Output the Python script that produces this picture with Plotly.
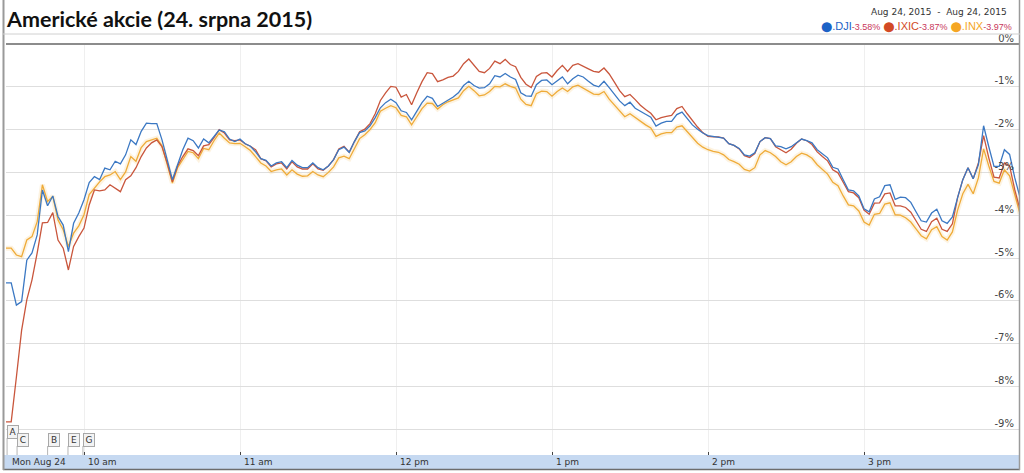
import plotly.graph_objects as go
import pandas as pd

# ---------------- data (percent change vs. previous close, 2-minute bars) ----------------
dji = [-5.58, -5.58, -6.10, -6.02, -5.05, -4.88, -4.46, -3.41, -3.78, -3.55,
       -4.03, -4.23, -4.85, -4.19, -3.95, -3.64, -3.24, -3.10, -3.17, -2.90,
       -2.94, -2.74, -2.80, -2.59, -2.24, -2.35, -2.04, -1.85, -1.86, -1.86,
       -2.24, -2.70, -3.17, -2.82, -2.47, -2.20, -2.26, -2.43, -2.22, -2.31,
       -2.17, -2.01, -2.05, -2.22, -2.28, -2.22, -2.33, -2.39, -2.52, -2.68,
       -2.72, -2.85, -2.78, -2.75, -2.89, -2.72, -2.83, -2.89, -2.89, -2.78,
       -2.89, -2.94, -2.85, -2.70, -2.47, -2.41, -2.53, -2.28, -2.07, -2.03,
       -1.91, -1.72, -1.49, -1.37, -1.29, -1.37, -1.56, -1.60, -1.77, -1.58,
       -1.37, -1.22, -1.27, -1.46, -1.39, -1.30, -1.24, -1.14, -0.97, -0.87,
       -0.97, -1.03, -1.02, -0.93, -0.74, -0.77, -0.69, -0.77, -0.83, -1.14,
       -1.21, -1.22, -0.95, -0.85, -0.84, -0.95, -0.85, -0.77, -0.93, -0.81,
       -0.73, -0.77, -0.87, -0.96, -1.00, -0.87, -1.02, -1.18, -1.33, -1.44,
       -1.36, -1.50, -1.58, -1.64, -1.71, -1.92, -1.85, -1.81, -1.81, -1.65,
       -1.59, -1.74, -1.89, -1.99, -2.08, -2.14, -2.16, -2.17, -2.20, -2.33,
       -2.37, -2.44, -2.59, -2.62, -2.54, -2.28, -2.19, -2.21, -2.38, -2.40,
       -2.45, -2.40, -2.31, -2.22, -2.26, -2.31, -2.47, -2.56, -2.66, -2.88,
       -2.92, -3.17, -3.41, -3.43, -3.55, -3.85, -3.92, -3.62, -3.57, -3.31,
       -3.29, -3.63, -3.58, -3.59, -3.70, -3.92, -4.13, -4.16, -3.95, -3.86,
       -4.13, -4.19, -4.04, -3.59, -3.17, -2.89, -3.15, -2.82, -1.91, -2.40,
       -2.86, -2.86, -2.47, -2.58, -3.13, -3.58]

ixic = [-8.83, -8.83, -7.78, -6.69, -5.98, -5.51, -4.88, -4.18, -4.17, -3.94,
        -4.58, -4.77, -5.28, -4.73, -4.50, -4.30, -3.76, -3.41, -3.43, -3.41,
        -3.29, -3.37, -3.45, -3.17, -3.08, -2.89, -2.63, -2.43, -2.31, -2.24,
        -2.40, -2.78, -3.22, -2.85, -2.63, -2.45, -2.49, -2.61, -2.38, -2.35,
        -2.19, -2.00, -2.08, -2.24, -2.26, -2.24, -2.33, -2.39, -2.47, -2.68,
        -2.73, -2.87, -2.80, -2.78, -2.92, -2.75, -2.87, -2.92, -2.92, -2.80,
        -2.92, -2.95, -2.85, -2.70, -2.45, -2.39, -2.53, -2.28, -2.05, -1.99,
        -1.86, -1.63, -1.32, -1.14, -0.99, -1.01, -1.24, -1.18, -1.42, -1.14,
        -0.88, -0.67, -0.69, -0.88, -0.84, -0.78, -0.75, -0.64, -0.46, -0.35,
        -0.50, -0.64, -0.67, -0.57, -0.40, -0.46, -0.36, -0.48, -0.53, -0.78,
        -0.94, -1.02, -0.76, -0.68, -0.67, -0.77, -0.62, -0.50, -0.64, -0.50,
        -0.46, -0.53, -0.58, -0.64, -0.66, -0.56, -0.70, -0.89, -1.09, -1.23,
        -1.18, -1.30, -1.43, -1.53, -1.62, -1.77, -1.72, -1.69, -1.67, -1.51,
        -1.46, -1.63, -1.79, -1.94, -2.07, -2.16, -2.17, -2.17, -2.20, -2.33,
        -2.37, -2.45, -2.61, -2.65, -2.56, -2.28, -2.19, -2.21, -2.40, -2.48,
        -2.54, -2.46, -2.32, -2.22, -2.26, -2.35, -2.52, -2.63, -2.73, -2.94,
        -3.01, -3.23, -3.45, -3.48, -3.59, -3.88, -3.98, -3.72, -3.71, -3.50,
        -3.48, -3.78, -3.78, -3.82, -3.93, -4.13, -4.33, -4.38, -4.15, -4.07,
        -4.33, -4.38, -4.20, -3.59, -3.17, -2.89, -3.15, -2.78, -2.14, -2.66,
        -3.11, -3.13, -2.78, -2.85, -3.41, -3.87]

inx = [-4.77, -4.77, -4.93, -4.97, -4.58, -4.50, -4.15, -3.29, -3.68, -3.56,
       -4.11, -4.34, -4.73, -4.42, -4.25, -3.99, -3.52, -3.37, -3.22, -3.10,
       -3.06, -2.98, -3.17, -2.99, -2.63, -2.74, -2.42, -2.28, -2.24, -2.20,
       -2.38, -2.82, -3.25, -2.89, -2.70, -2.51, -2.54, -2.68, -2.44, -2.47,
       -2.26, -2.08, -2.20, -2.31, -2.33, -2.32, -2.40, -2.49, -2.63, -2.78,
       -2.85, -2.98, -2.94, -2.92, -3.06, -2.94, -3.04, -3.09, -3.08, -2.98,
       -3.06, -3.10, -3.00, -2.87, -2.66, -2.62, -2.68, -2.45, -2.21, -2.12,
       -2.00, -1.84, -1.57, -1.50, -1.44, -1.49, -1.67, -1.70, -1.89, -1.70,
       -1.51, -1.38, -1.39, -1.52, -1.42, -1.35, -1.31, -1.26, -1.09, -0.99,
       -1.09, -1.21, -1.19, -1.11, -0.99, -1.00, -0.93, -0.99, -1.03, -1.29,
       -1.41, -1.44, -1.16, -1.10, -1.11, -1.22, -1.11, -1.03, -1.11, -1.00,
       -0.96, -1.03, -1.11, -1.17, -1.18, -1.11, -1.29, -1.43, -1.58, -1.70,
       -1.63, -1.72, -1.81, -1.89, -1.96, -2.16, -2.10, -2.07, -2.07, -1.94,
       -1.91, -2.05, -2.19, -2.32, -2.41, -2.47, -2.51, -2.53, -2.59, -2.70,
       -2.75, -2.81, -2.93, -2.97, -2.89, -2.59, -2.49, -2.54, -2.63, -2.75,
       -2.82, -2.75, -2.63, -2.55, -2.59, -2.67, -2.82, -2.94, -3.04, -3.23,
       -3.31, -3.55, -3.76, -3.78, -3.90, -4.16, -4.23, -3.98, -3.96, -3.74,
       -3.71, -3.99, -4.00, -4.06, -4.16, -4.32, -4.48, -4.55, -4.34, -4.27,
       -4.50, -4.58, -4.39, -3.88, -3.50, -3.28, -3.50, -3.13, -2.45, -2.85,
       -3.21, -3.25, -2.94, -3.08, -3.55, -3.97]

series_names = [".DJI", ".IXIC", ".INX"]
series_final = ["-3.58%", "-3.87%", "-3.97%"]

x_tick_times = ["2015-08-24 09:30", "2015-08-24 10:00", "2015-08-24 11:00", "2015-08-24 12:00",
                "2015-08-24 13:00", "2015-08-24 14:00", "2015-08-24 15:00"]
x_tick_text = ["Mon Aug 24", "10 am", "11 am", "12 pm", "1 pm", "2 pm", "3 pm"]

y_tick_vals = [0, -1, -2, -3, -4, -5, -6, -7, -8, -9]
y_tick_text = ["0%", "-1%", "-2%", "-3%", "-4%", "-5%", "-6%", "-7%", "-8%", "-9%"]

flag_labels = ["A", "C", "B", "E", "G"]
flag_times = ["2015-08-24 09:30:25", "2015-08-24 09:34:15", "2015-08-24 09:46:00",
              "2015-08-24 09:53:50", "2015-08-24 09:59:35"]
flag_level = [1, 0, 0, 0, 0]

title_text = "Americké akcie (24. srpna 2015)"
date_range_text = "Aug 24, 2015  -  Aug 24, 2015"

# ---------------- styling ----------------
colors = ["#3b78c3", "#c9563c", "#efab38"]
dot_colors = ["#1c62c6", "#d24a25", "#f5a623"]
pct_color = "#c8365a"

times = pd.date_range("2015-08-24 09:30", periods=len(dji), freq="2min")

fig = go.Figure()
# soft halo like the original rendering
fig.add_trace(go.Scatter(x=times, y=inx, mode="lines",
                         line=dict(color="rgba(245,190,90,0.18)", width=5),
                         hoverinfo="skip", showlegend=False))
for vals, c, n in zip([inx, ixic, dji], [colors[2], colors[1], colors[0]],
                      [series_names[2], series_names[1], series_names[0]]):
    fig.add_trace(go.Scatter(x=times, y=vals, mode="lines", name=n,
                             line=dict(color=c, width=1.3), showlegend=False))

# plot area: x 6..1020 px, y 44..455 px
W, H = 1024, 473
L, R, T, B = 6, 4, 44, 18
pw, ph = W - L - R, H - T - B


def px(xp):
    return (xp - L) / pw


def py(yp):
    return (H - B - yp) / ph


fig.update_layout(
    width=W, height=H,
    margin=dict(l=L, r=R, t=T, b=B),
    paper_bgcolor="white", plot_bgcolor="white",
    showlegend=False,
    xaxis=dict(type="date", range=["2015-08-24 09:30", "2015-08-24 16:00"],
               tickvals=x_tick_times[1:], showticklabels=False,
               ticks="inside", ticklen=3, tickcolor="#444", tickwidth=1,
               showgrid=True, gridcolor="#efefef", gridwidth=1,
               showline=False, zeroline=False, fixedrange=True),
    yaxis=dict(range=[-(H - B - T) / 42.8, 0], side="right",
               tickvals=y_tick_vals, ticktext=y_tick_text,
               ticklabelposition="inside", ticklabelshift=-6, ticklabelstandoff=3,
               ticklabeloverflow="allow",
               tickfont=dict(family="DejaVu Sans", size=10, color="#444"),
               showgrid=True, gridcolor="#dedede", gridwidth=1,
               zeroline=True, zerolinecolor="#8c8c8c", zerolinewidth=2,
               showline=False, ticks="", fixedrange=True),
)

shapes = []
# x-axis band
shapes.append(dict(type="rect", xref="paper", yref="paper", x0=px(3), x1=px(1020),
                   y0=py(469), y1=0, fillcolor="#c6d9f1", line=dict(width=0), layer="below"))
shapes.append(dict(type="line", xref="paper", yref="paper", x0=px(3), x1=px(1020),
                   y0=py(469.5), y1=py(469.5), line=dict(color="#6d6d6d", width=1.5)))
# frame
shapes.append(dict(type="line", xref="paper", yref="paper", x0=px(3.5), x1=px(3.5),
                   y0=py(470), y1=py(0), line=dict(color="#9a9a9a", width=2)))
shapes.append(dict(type="line", xref="paper", yref="paper", x0=px(1019.5), x1=px(1019.5),
                   y0=py(470), y1=py(0), line=dict(color="#9a9a9a", width=1.5)))
shapes.append(dict(type="line", xref="paper", yref="paper", x0=px(3), x1=px(1020),
                   y0=py(34), y1=py(34), line=dict(color="#d0d0d0", width=1)))

annotations = []
# title
annotations.append(dict(xref="paper", yref="paper", x=px(4), y=py(19), xanchor="left",
                        yanchor="middle", showarrow=False, text="<b>" + title_text + "</b>",
                        font=dict(family="Lato", size=21.5, color="#111")))
# legend block
annotations.append(dict(xref="paper", yref="paper", x=px(1009), y=py(11.5), xanchor="right",
                        yanchor="middle", showarrow=False, text=date_range_text,
                        font=dict(family="DejaVu Sans", size=9, color="#333")))
parts = []
for n, v, dc in zip(series_names, series_final, dot_colors):
    parts.append(f'<span style="color:{dc};font-family:DejaVu Sans;font-size:10px">⬤</span>'
                 f'<span style="color:{dc};font-size:11px">{n}</span>'
                 f'<span style="color:{pct_color};font-size:9px">{v}</span>')
annotations.append(dict(xref="paper", yref="paper", x=px(1014), y=py(26), xanchor="right",
                        yanchor="middle", showarrow=False, text=" ".join(parts),
                        font=dict(family="Liberation Sans", size=11)))
# x tick labels (left-aligned after the tick, in the blue band)
for t, s in zip(x_tick_times, x_tick_text):
    annotations.append(dict(xref="x", yref="paper", x=t, y=py(462.5), xanchor="left",
                            yanchor="middle", showarrow=False, text=s,
                            xshift=2 if s != x_tick_text[0] else 4,
                            font=dict(family="DejaVu Sans", size=9, color="#333")))
# news flags
for lab, t, lev in zip(flag_labels, flag_times, flag_level):
    yc = py(432) if lev else py(440)
    ybot = py(438) if lev else py(446)
    shapes.append(dict(type="line", xref="x", yref="paper", x0=t, x1=t, y0=0, y1=ybot,
                       line=dict(color="#b5b5b5", width=1)))
    annotations.append(dict(xref="x", yref="paper", x=t, y=yc, xanchor="left", yanchor="middle",
                            showarrow=False, text=lab, width=8, height=10, borderpad=1,
                            bordercolor="#a8a8a8", borderwidth=1, bgcolor="#f3f3f3",
                            font=dict(family="DejaVu Sans", size=9, color="#333")))

fig.update_layout(shapes=shapes, annotations=annotations)
fig.write_html("out.html", config={"displayModeBar": False},
               post_script="document.body.style.margin='0';document.body.style.overflow='hidden';")
